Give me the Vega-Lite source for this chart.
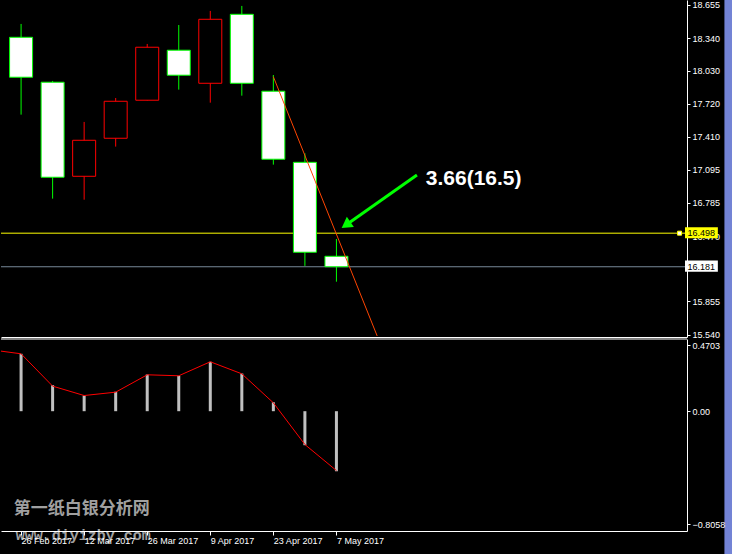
{
  "$schema": "https://vega.github.io/schema/vega-lite/v6.json",
  "background": "#000000",
  "padding": 0,
  "spacing": 2,
  "bounds": "flush",
  "config": {
    "view": {"stroke": null},
    "font": "Liberation Sans",
    "axis": {"grid": false, "title": null, "domainColor": "#ffffff", "tickColor": "#ffffff", "labelColor": "#ffffff", "labelFontSize": 9, "labelFont": "Liberation Sans", "labelFlush": false, "labelOverlap": false, "labelBound": false, "labelSeparation": 0}
  },
  "datasets": {
    "candles": [
      {"date": "2017-02-26", "open": 18.347, "high": 18.473, "low": 17.617, "close": 17.970},
      {"date": "2017-03-05", "open": 17.923, "high": 17.935, "low": 16.824, "close": 17.026},
      {"date": "2017-03-12", "open": 17.035, "high": 17.548, "low": 16.814, "close": 17.375},
      {"date": "2017-03-19", "open": 17.394, "high": 17.774, "low": 17.315, "close": 17.743},
      {"date": "2017-03-26", "open": 17.753, "high": 18.284, "low": 17.750, "close": 18.253},
      {"date": "2017-04-02", "open": 18.225, "high": 18.463, "low": 17.853, "close": 17.989},
      {"date": "2017-04-09", "open": 17.913, "high": 18.596, "low": 17.730, "close": 18.517},
      {"date": "2017-04-16", "open": 18.564, "high": 18.643, "low": 17.796, "close": 17.913},
      {"date": "2017-04-23", "open": 17.838, "high": 17.991, "low": 17.145, "close": 17.196},
      {"date": "2017-04-30", "open": 17.167, "high": 17.252, "low": 16.189, "close": 16.318},
      {"date": "2017-05-07", "open": 16.280, "high": 16.443, "low": 16.040, "close": 16.181}
    ],
    "trend": [
      {"date": "2017-04-23T00:00:00Z", "price": 17.975},
      {"date": "2017-05-16T01:00:00Z", "price": 15.528}
    ],
    "arrow": [
      {"date": "2017-05-24T21:00:00Z", "price": 17.048},
      {"date": "2017-05-09T03:00:00Z", "price": 16.576}
    ],
    "one": [{}],
    "osc": [
      {"date": "2017-02-19", "hist": 0.4703, "signal": 0.44},
      {"date": "2017-02-26", "hist": 0.410, "signal": 0.410},
      {"date": "2017-03-05", "hist": 0.186, "signal": 0.179},
      {"date": "2017-03-12", "hist": 0.112, "signal": 0.112},
      {"date": "2017-03-19", "hist": 0.139, "signal": 0.136},
      {"date": "2017-03-26", "hist": 0.262, "signal": 0.260},
      {"date": "2017-04-02", "hist": 0.253, "signal": 0.253},
      {"date": "2017-04-09", "hist": 0.353, "signal": 0.353},
      {"date": "2017-04-16", "hist": 0.269, "signal": 0.267},
      {"date": "2017-04-23", "hist": 0.064, "signal": 0.060},
      {"date": "2017-04-30", "hist": -0.243, "signal": -0.238},
      {"date": "2017-05-07", "hist": -0.429, "signal": -0.424}
    ]
  },
  "vconcat": [
    {
      "width": 686,
      "height": 337,
      "layer": [
        {
          "data": {"name": "candles"},
          "mark": {"type": "rule", "strokeWidth": 1},
          "encoding": {
            "x": {"field": "date", "type": "temporal",
              "scale": {"type": "utc", "domain": [{"year": 2017, "month": 2, "date": 22, "hours": 15, "minutes": 40, "utc": true}, {"year": 2017, "month": 7, "date": 22, "hours": 17, "utc": true}]},
              "axis": {"orient": "bottom", "labels": false, "ticks": false}},
            "y": {"field": "low", "type": "quantitative",
              "scale": {"domain": [15.518, 18.699], "nice": false, "zero": false},
              "axis": {"orient": "right", "values": [18.655, 18.34, 18.03, 17.72, 17.41, 17.095, 16.785, 16.47, 15.855, 15.54], "tickCount": 30, "labelExpr": "format(datum.value, '.3f')", "tickSize": 3, "labelPadding": 2, "labelOverlap": false}},
            "y2": {"field": "high"},
            "color": {"condition": {"test": "datum.close < datum.open", "value": "#00ff00"}, "value": "#ff0000"}
          }
        },
        {
          "data": {"name": "one"},
          "mark": {"type": "rule", "color": "#ffff00", "strokeWidth": 1},
          "encoding": {"y": {"datum": 16.498, "type": "quantitative"}}
        },
        {
          "data": {"name": "one"},
          "mark": {"type": "rule", "color": "#778899", "strokeWidth": 1},
          "encoding": {"y": {"datum": 16.181, "type": "quantitative"}}
        },
        {
          "data": {"name": "candles"},
          "mark": {"type": "bar", "size": 23, "strokeWidth": 1},
          "encoding": {
            "x": {"field": "date", "type": "temporal"},
            "y": {"field": "open", "type": "quantitative"},
            "y2": {"field": "close"},
            "fill": {"condition": {"test": "datum.close < datum.open", "value": "#ffffff"}, "value": "#000000"},
            "stroke": {"condition": {"test": "datum.close < datum.open", "value": "#00ff00"}, "value": "#ff0000"}
          }
        },
        {
          "data": {"name": "trend"},
          "mark": {"type": "line", "color": "#ff4500", "strokeWidth": 1, "clip": true},
          "encoding": {
            "x": {"field": "date", "type": "temporal"},
            "y": {"field": "price", "type": "quantitative"}
          }
        },
        {
          "data": {"name": "arrow"},
          "mark": {"type": "line", "color": "#00ff00", "strokeWidth": 3},
          "encoding": {
            "x": {"field": "date", "type": "temporal"},
            "y": {"field": "price", "type": "quantitative"}
          }
        },
        {
          "data": {"name": "one"},
          "mark": {"type": "point", "shape": "triangle-up", "filled": true, "size": 150, "angle": 235, "color": "#00ff00", "opacity": 1},
          "encoding": {
            "x": {"datum": {"year": 2017, "month": 5, "date": 9, "hours": 3, "utc": true}, "type": "temporal"},
            "y": {"datum": 16.576, "type": "quantitative"}
          }
        },
        {
          "data": {"name": "one"},
          "mark": {"type": "text", "text": "3.66(16.5)", "align": "left", "baseline": "alphabetic", "font": "Liberation Sans", "fontSize": 21, "fontWeight": "bold", "color": "#ffffff"},
          "encoding": {
            "x": {"datum": {"year": 2017, "month": 5, "date": 26, "hours": 20, "utc": true}, "type": "temporal"},
            "y": {"datum": 16.953, "type": "quantitative"}
          }
        },
        {
          "data": {"name": "one"},
          "mark": {"type": "point", "shape": "square", "filled": true, "size": 16, "fill": "#ffffff", "stroke": "#ffff00", "strokeWidth": 1, "opacity": 1},
          "encoding": {
            "x": {"datum": {"year": 2017, "month": 7, "date": 22, "hours": 4, "utc": true}, "type": "temporal"},
            "y": {"datum": 16.498, "type": "quantitative"}
          }
        },
        {
          "data": {"name": "one"},
          "mark": {"type": "rect", "color": "#ffff00"},
          "encoding": {
            "x": {"datum": {"year": 2017, "month": 7, "date": 23, "hours": 9, "utc": true}, "type": "temporal"},
            "x2": {"datum": {"year": 2017, "month": 7, "date": 30, "hours": 16, "utc": true}},
            "y": {"datum": 16.553, "type": "quantitative"},
            "y2": {"datum": 16.449}
          }
        },
        {
          "data": {"name": "one"},
          "mark": {"type": "rect", "color": "#ffffff"},
          "encoding": {
            "x": {"datum": {"year": 2017, "month": 7, "date": 23, "hours": 9, "utc": true}, "type": "temporal"},
            "x2": {"datum": {"year": 2017, "month": 7, "date": 30, "hours": 16, "utc": true}},
            "y": {"datum": 16.239, "type": "quantitative"},
            "y2": {"datum": 16.135}
          }
        },
        {
          "data": {"name": "one"},
          "mark": {"type": "text", "text": "16.498", "align": "center", "baseline": "middle", "font": "Liberation Sans", "fontSize": 9, "color": "#000000"},
          "encoding": {
            "x": {"datum": {"year": 2017, "month": 7, "date": 27, "hours": 0, "utc": true}, "type": "temporal"},
            "y": {"datum": 16.498, "type": "quantitative"}
          }
        },
        {
          "data": {"name": "one"},
          "mark": {"type": "text", "text": "16.181", "align": "center", "baseline": "middle", "font": "Liberation Sans", "fontSize": 9, "color": "#000000"},
          "encoding": {
            "x": {"datum": {"year": 2017, "month": 7, "date": 27, "hours": 0, "utc": true}, "type": "temporal"},
            "y": {"datum": 16.181, "type": "quantitative"}
          }
        },
        {
          "data": {"name": "one"},
          "mark": {"type": "rect", "color": "#7383d5"},
          "encoding": {
            "x": {"datum": {"year": 2017, "month": 8, "date": 1, "hours": 3, "utc": true}, "type": "temporal"},
            "x2": {"datum": {"year": 2017, "month": 8, "date": 5, "utc": true}},
            "y": {"datum": 18.699, "type": "quantitative"},
            "y2": {"datum": 13.3}
          }
        }
      ]
    },
    {
      "width": 686,
      "height": 192,
      "layer": [
        {
          "data": {"name": "osc"},
          "mark": {"type": "bar", "size": 3, "color": "#c0c0c0", "clip": true},
          "encoding": {
            "x": {"field": "date", "type": "temporal",
              "scale": {"type": "utc", "domain": [{"year": 2017, "month": 2, "date": 22, "hours": 15, "minutes": 40, "utc": true}, {"year": 2017, "month": 7, "date": 22, "hours": 17, "utc": true}]},
              "axis": {"orient": "bottom", "zindex": 1, "tickCount": 30,
                "values": [
                  {"year": 2017, "month": 2, "date": 26, "utc": true},
                  {"year": 2017, "month": 3, "date": 12, "utc": true},
                  {"year": 2017, "month": 3, "date": 26, "utc": true},
                  {"year": 2017, "month": 4, "date": 9, "utc": true},
                  {"year": 2017, "month": 4, "date": 23, "utc": true},
                  {"year": 2017, "month": 5, "date": 7, "utc": true}
                ],
                "labelExpr": "utcFormat(datum.value, '%-d %b %Y')",
                "tickSize": 4, "labelAlign": "left", "labelPadding": 1}},
            "y": {"field": "hist", "type": "quantitative",
              "scale": {"domain": [-0.8557, 0.5157], "nice": false, "zero": false},
              "axis": {"orient": "right", "values": [0.4703, 0, -0.8058], "tickCount": 30, "labelExpr": "datum.value == 0 ? '0.00' : format(datum.value, '.4f')", "tickSize": 3, "labelPadding": 2}},
            "y2": {"datum": 0}
          }
        },
        {
          "data": {"name": "one"},
          "mark": {"type": "rule", "color": "#ffffff", "strokeWidth": 1},
          "encoding": {"y": {"datum": 0.5157, "type": "quantitative"}}
        },
        {
          "data": {"name": "one"},
          "mark": {"type": "text", "text": "第一纸白银分析网", "align": "left", "baseline": "middle", "font": "Noto Sans CJK SC", "fontSize": 17, "fontWeight": "bold", "color": "#a0a0a0"},
          "encoding": {
            "x": {"datum": {"year": 2017, "month": 2, "date": 24, "hours": 9, "utc": true}, "type": "temporal"},
            "y": {"datum": -0.702, "type": "quantitative"}
          }
        },
        {
          "data": {"name": "one"},
          "mark": {"type": "text", "text": "www.diyizby.com", "align": "left", "baseline": "middle", "font": "Liberation Mono", "fontSize": 15, "fontWeight": "bold", "color": "#a0a0a0"},
          "encoding": {
            "x": {"datum": {"year": 2017, "month": 2, "date": 24, "hours": 20, "utc": true}, "type": "temporal"},
            "y": {"datum": -0.881, "type": "quantitative"}
          }
        },
        {
          "data": {"name": "osc"},
          "mark": {"type": "line", "color": "#ff0000", "strokeWidth": 1, "clip": true},
          "encoding": {
            "x": {"field": "date", "type": "temporal"},
            "y": {"field": "signal", "type": "quantitative"}
          }
        }
      ]
    }
  ]
}
